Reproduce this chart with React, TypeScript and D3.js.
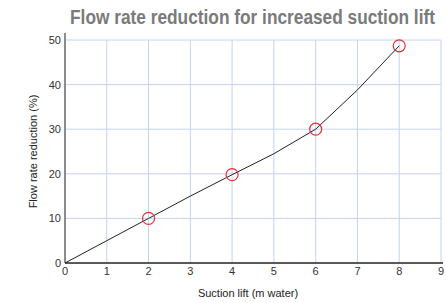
import { useEffect, useRef } from "react";
import * as d3 from "d3";

const lift = [0, 1, 2, 3, 4, 5, 6, 7, 8];
const reduction = [0, 5, 10, 15, 19.8, 24.5, 30, 38.8, 48.7];
const markedLift = [2, 4, 6, 8];
const xTicks = [0, 1, 2, 3, 4, 5, 6, 7, 8, 9];
const yTicks = [0, 10, 20, 30, 40, 50];

export default function App() {
  const svgRef = useRef<SVGSVGElement>(null);

  useEffect(() => {
    if (!svgRef.current) return;
    const svg = d3.select(svgRef.current);
    svg.selectAll("*").remove();

    const x = d3.scaleLinear().domain([0, 9]).range([65, 441]);
    const y = d3.scaleLinear().domain([0, 50]).range([263, 40]);
    const font = "Liberation Sans, Arial, sans-serif";

    // title, squeezed horizontally to look condensed
    const title = svg
      .append("text")
      .attr("text-anchor", "middle")
      .attr("fill", "#7a7a7a")
      .attr("font-family", font)
      .attr("font-weight", "bold")
      .attr("font-size", 20)
      .text("Flow rate reduction for increased suction lift");
    const w = (title.node() as SVGTextElement).getComputedTextLength();
    const sx = 365 / w;
    title.attr("transform", `translate(252.5, 24) scale(${sx}, 1)`);

    // grid
    const grid = svg.append("g").attr("stroke", "#c4d4ee").attr("stroke-width", 1);
    xTicks.slice(1).forEach((t) => {
      grid.append("line").attr("x1", x(t)).attr("x2", x(t)).attr("y1", y(50)).attr("y2", y(0));
    });
    yTicks.slice(1).forEach((t) => {
      grid.append("line").attr("x1", x(0)).attr("x2", x(9)).attr("y1", y(t)).attr("y2", y(t));
    });

    // axes
    svg
      .append("line")
      .attr("x1", x(0))
      .attr("x2", x(0))
      .attr("y1", 33)
      .attr("y2", y(0))
      .attr("stroke", "#666")
      .attr("stroke-width", 1.5);
    svg
      .append("line")
      .attr("x1", x(0))
      .attr("x2", x(9) + 2)
      .attr("y1", y(0))
      .attr("y2", y(0))
      .attr("stroke", "#222")
      .attr("stroke-width", 1.5);

    svg
      .append("g")
      .selectAll("text")
      .data(xTicks)
      .join("text")
      .attr("x", (d) => x(d))
      .attr("y", 275)
      .attr("text-anchor", "middle")
      .attr("font-family", font)
      .attr("font-size", 11)
      .attr("fill", "#333")
      .text((d) => d);

    svg
      .append("g")
      .selectAll("text")
      .data(yTicks)
      .join("text")
      .attr("x", 61)
      .attr("y", (d) => y(d) + 4)
      .attr("text-anchor", "end")
      .attr("font-family", font)
      .attr("font-size", 11)
      .attr("fill", "#333")
      .text((d) => d);

    svg
      .append("text")
      .attr("x", 248)
      .attr("y", 297)
      .attr("text-anchor", "middle")
      .attr("font-family", font)
      .attr("font-size", 11)
      .attr("fill", "#222")
      .text("Suction lift (m water)");

    svg
      .append("text")
      .attr("transform", `translate(37, ${y(25)}) rotate(-90)`)
      .attr("text-anchor", "middle")
      .attr("font-family", font)
      .attr("font-size", 11)
      .attr("fill", "#222")
      .text("Flow rate reduction (%)");

    // curve
    const line = d3
      .line<number>()
      .x((d) => x(d))
      .y((d, i) => y(reduction[i]));
    svg
      .append("path")
      .datum(lift)
      .attr("d", line)
      .attr("fill", "none")
      .attr("stroke", "#222")
      .attr("stroke-width", 1);

    // markers
    svg
      .append("g")
      .selectAll("circle")
      .data(markedLift)
      .join("circle")
      .attr("cx", (d) => x(d))
      .attr("cy", (d) => y(reduction[lift.indexOf(d)]))
      .attr("r", 6)
      .attr("fill", "none")
      .attr("stroke", "#e8303a")
      .attr("stroke-width", 1.2);
  }, []);

  return (
    <svg
      ref={svgRef}
      width={446}
      height={303}
      style={{ position: "absolute", left: 0, top: 0 }}
    />
  );
}
